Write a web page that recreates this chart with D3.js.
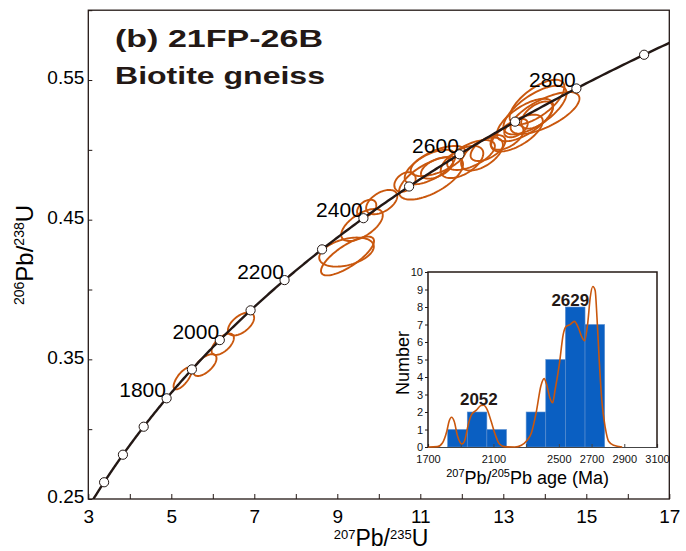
<!DOCTYPE html>
<html><head><meta charset="utf-8">
<script src="https://cdn.jsdelivr.net/npm/d3@7"></script>
<style>
body{margin:0;background:#fff;}
svg{display:block;font-family:"Liberation Sans",Arial,sans-serif;}
</style></head><body>
<svg id="c" width="686" height="551"></svg>
<script>
// ---------------- DATA ----------------
const xTickValues = [3,4,5,6,7,8,9,10,11,12,13,14,15,16,17];
const xTickLabels = [3,5,7,9,11,13,15,17];
const yTickValues = [0.25,0.30,0.35,0.40,0.45,0.50,0.55,0.60];
const yTickLabels = [0.25,0.35,0.45,0.55];
const markerAges = [1500,1600,1700,1800,1900,2000,2100,2200,2300,2400,2500,2600,2700,2800,2900];
const labelAges  = [1800,2000,2200,2400,2600,2800];

// ellipses: 207Pb/235U, 206Pb/238U, half-extent x, half-extent y, rho
const ellX   = [5.275,5.812,6.239,6.680,9.246,9.222,9.595,9.708,10.07,11.258,10.631,11.234,11.427,11.402,12.005,12.222,12.487,12.631,13.089,13.523,13.764,13.330,14.005,13.812,13.812,13.306];
const ellY   = [0.3364,0.3459,0.3608,0.3753,0.4240,0.4268,0.4462,0.4581,0.4626,0.4798,0.4770,0.4877,0.4920,0.4870,0.4913,0.4963,0.4970,0.5013,0.5092,0.5214,0.5285,0.5120,0.5264,0.5342,0.5249,0.5156];
const ellSx  = [0.220,0.278,0.269,0.316,0.639,0.658,0.501,0.231,0.375,0.772,0.257,0.610,0.658,0.386,0.513,0.575,0.504,0.419,0.397,0.679,0.761,0.622,0.830,0.660,0.381,0.282];
const ellSy  = [0.0079,0.0078,0.0076,0.0082,0.0139,0.0104,0.0115,0.0062,0.0087,0.0154,0.0070,0.0124,0.0108,0.0076,0.0115,0.0107,0.0118,0.0093,0.0091,0.0152,0.0174,0.0132,0.0150,0.0160,0.0097,0.0066];
const ellRho = [0.72,0.62,0.60,0.55,0.77,0.38,0.61,0.39,0.49,0.64,0.34,0.62,0.62,0.52,0.54,0.60,0.56,0.56,0.52,0.67,0.69,0.65,0.69,0.68,0.55,0.49];

// histogram (inset)
const binStart = [1820,1940,2060,2180,2300,2420,2540,2660];
const binCount = [1,2,1,0,2,5,8,7];
const binWidth = 120;
const kdeAge = [1700,1757,1788,1815,1829,1844,1860,1881,1907,1926,1946,1967,1994,2024,2041,2061,2086,2111,2137,2168,2230,2271,2301,2332,2363,2390,2410,2425,2445,2462,2476,2503,2527,2544,2568,2595,2620,2640,2657,2677,2692,2708,2722,2733,2747,2763,2784,2804,2835,2887];
const kdeVal = [0,0.02,0.23,0.90,1.47,1.70,1.47,0.61,0.17,0.42,1.28,1.86,2.09,2.37,2.39,2.15,1.47,0.71,0.17,0.02,0,0.10,0.33,0.80,2.05,3.49,3.91,3.58,2.82,2.53,3.20,4.73,6.45,6.88,6.99,7.18,6.80,6.30,6.07,7.12,8.56,9.17,8.94,7.41,4.92,2.62,1.09,0.33,0.10,0];
const histXTicks = [1700,1900,2100,2300,2500,2700,2900,3100];
const histXLabels = [1700,2100,2500,2700,2900,3100];
const histYTicks = [0,1,2,3,4,5,6,7,8,9,10];
const peakLabels = ["2052","2629"];

// ---------------- DRAW ----------------
const ink = "#231815", orange = "#c9570d", blue = "#0a5fc2";
const svg = d3.select("#c");
const x = d3.scaleLinear().domain([3,17]).range([88.3,669.3]);
const y = d3.scaleLinear().domain([0.25,0.60]).range([499,10.2]);

const L238 = 1.55125e-4, L235 = 9.8485e-4; // per Ma
const conc = t => [Math.exp(L235*t)-1, Math.exp(L238*t)-1];

svg.append("clipPath").attr("id","clip").append("rect")
  .attr("x",x(3)).attr("y",y(0.6)).attr("width",x(17)-x(3)).attr("height",y(0.25)-y(0.6));

// ellipses
const ell = svg.append("g").attr("clip-path","url(#clip)");
ellX.forEach((cx,i)=>{
  const sx=ellSx[i], sy=ellSy[i], r=ellRho[i], cy=ellY[i];
  const pts=d3.range(0,361,4).map(a=>{
    const t=a*Math.PI/180;
    return [x(cx+sx*Math.cos(t)), y(cy+r*sy*Math.cos(t)+sy*Math.sqrt(1-r*r)*Math.sin(t))];
  });
  ell.append("path").attr("d",d3.line().curve(d3.curveLinearClosed)(pts))
    .attr("fill","none").attr("stroke",orange).attr("stroke-width",1.9);
});

// concordia
const ages = d3.range(1400,3001,5);
svg.append("path").attr("clip-path","url(#clip)")
  .attr("d", d3.line().x(t=>x(conc(t)[0])).y(t=>y(conc(t)[1]))(ages))
  .attr("fill","none").attr("stroke",ink).attr("stroke-width",2.4);

svg.append("g").selectAll("circle").data(markerAges).join("circle")
  .attr("cx",t=>x(conc(t)[0])).attr("cy",t=>y(conc(t)[1])).attr("r",4.6)
  .attr("fill","#fff").attr("stroke",ink).attr("stroke-width",1);

svg.append("g").selectAll("text").data(labelAges).join("text")
  .attr("x",t=>x(conc(t)[0])-24).attr("y",t=>y(conc(t)[1])-8.5)
  .attr("text-anchor","middle").attr("dominant-baseline","central")
  .attr("font-size",21).attr("fill","#000").text(t=>t);

// axes
const xAxis = d3.axisBottom(x).tickValues(xTickValues).tickSize(-5).tickPadding(11)
  .tickFormat(d=>xTickLabels.includes(d)?d:"");
const gx = svg.append("g").attr("transform",`translate(0,${y(0.25)})`).call(xAxis);
gx.select(".domain").remove();
gx.selectAll("line").attr("stroke",ink).attr("stroke-width",1);
gx.selectAll("text").attr("font-size",19).attr("fill","#000").attr("font-family","Liberation Sans, Arial");

const yAxis = d3.axisLeft(y).tickValues(yTickValues).tickSize(-4).tickPadding(4)
  .tickFormat(d=>yTickLabels.some(v=>Math.abs(v-d)<1e-9)?d3.format(".2f")(d):"");
const gy = svg.append("g").attr("transform",`translate(${x(3)},0)`).call(yAxis);
gy.select(".domain").remove();
gy.selectAll("line").attr("stroke",ink).attr("stroke-width",1);
gy.selectAll("text").attr("font-size",19).attr("fill","#000").attr("dy","0.2em").attr("font-family","Liberation Sans, Arial");

svg.append("rect").attr("x",x(3)).attr("y",y(0.6)).attr("width",x(17)-x(3)).attr("height",y(0.25)-y(0.6))
  .attr("fill","none").attr("stroke",ink).attr("stroke-width",1.3);

// axis titles
const xt = svg.append("text").attr("x",381).attr("y",546).attr("text-anchor","middle").attr("font-size",23).attr("fill","#000");
xt.append("tspan").attr("font-size",13).attr("dy",-7).text("207");
xt.append("tspan").attr("dy",7).text("Pb/");
xt.append("tspan").attr("font-size",13).attr("dy",-7).text("235");
xt.append("tspan").attr("dy",7).text("U");

const yt = svg.append("text").attr("transform","translate(33,255) rotate(-90)").attr("text-anchor","middle").attr("font-size",24).attr("fill","#000");
yt.append("tspan").attr("font-size",14).attr("dy",-9).text("206");
yt.append("tspan").attr("dy",9).text("Pb/");
yt.append("tspan").attr("font-size",14).attr("dy",-9).text("238");
yt.append("tspan").attr("dy",9).text("U");

// title
svg.append("text").attr("x",115).attr("y",46.5).attr("font-size",23).attr("font-weight","bold")
  .attr("fill",ink).attr("textLength",208).attr("lengthAdjust","spacingAndGlyphs").text("(b) 21FP-26B");
svg.append("text").attr("x",115).attr("y",83.5).attr("font-size",23).attr("font-weight","bold")
  .attr("fill",ink).attr("textLength",210).attr("lengthAdjust","spacingAndGlyphs").text("Biotite gneiss");

// ---------------- INSET ----------------
const hx = d3.scaleLinear().domain([1700,3100]).range([428,657]);
const hy = d3.scaleLinear().domain([0,10]).range([447,272]);
const gi = svg.append("g");
gi.selectAll("rect.bar").data(binStart.map((s,i)=>({s,c:binCount[i]})).filter(d=>d.c>0)).join("rect")
  .attr("class","bar").attr("x",d=>hx(d.s)).attr("width",d=>hx(d.s+binWidth)-hx(d.s))
  .attr("y",d=>hy(d.c)).attr("height",d=>hy(0)-hy(d.c))
  .attr("fill",blue).attr("stroke","#5b8fd0").attr("stroke-width",0.6);

// bottom axis
const hxa = d3.axisBottom(hx).tickValues(histXTicks).tickSize(-3).tickPadding(8)
  .tickFormat(d=>histXLabels.includes(d)?d:"");
const ghx = gi.append("g").attr("transform",`translate(0,${hy(0)})`).call(hxa);
ghx.select(".domain").attr("stroke","#444").attr("stroke-width",1.2);
ghx.selectAll("line").attr("stroke","#444");
ghx.selectAll("text").attr("font-size",11).attr("fill","#111").attr("font-family","Liberation Sans, Arial");

const hya = d3.axisLeft(hy).tickValues(histYTicks).tickSize(3).tickPadding(2);
const ghy = gi.append("g").attr("transform",`translate(${hx(1700)},0)`).call(hya);
ghy.select(".domain").remove();
ghy.selectAll("line").attr("stroke",ink);
ghy.selectAll("text").attr("font-size",11).attr("fill","#111").attr("font-family","Liberation Sans, Arial");

// kde
gi.append("path").attr("d", d3.line().curve(d3.curveMonotoneX).x((a)=>hx(a)).y((a,i)=>hy(kdeVal[i]))(kdeAge))
  .attr("fill","none").attr("stroke",orange).attr("stroke-width",1.6);

// frame lines
gi.append("path").attr("d",`M${hx(1700)},${hy(0)}V${hy(10)}H${hx(3100)}V${hy(0)}`)
  .attr("fill","none").attr("stroke",ink).attr("stroke-width",1.5);

// peak labels
gi.append("text").attr("x",hx(2011)).attr("y",404.5).attr("text-anchor","middle").attr("font-size",17).attr("font-weight","bold").attr("fill",ink).text(peakLabels[0]);
gi.append("text").attr("x",hx(2570)).attr("y",305.5).attr("text-anchor","middle").attr("font-size",17).attr("font-weight","bold").attr("fill",ink).text(peakLabels[1]);

// inset titles
gi.append("text").attr("transform","translate(408.5,363) rotate(-90)").attr("text-anchor","middle")
  .attr("font-size",18).attr("fill","#000").text("Number");
const it = gi.append("text").attr("x",527.6).attr("y",484).attr("text-anchor","middle").attr("font-size",18).attr("fill","#000");
it.append("tspan").attr("font-size",11).attr("dy",-7).text("207");
it.append("tspan").attr("dy",7).text("Pb/");
it.append("tspan").attr("font-size",11).attr("dy",-7).text("205");
it.append("tspan").attr("dy",7).text("Pb age (Ma)");
</script>
</body></html>
